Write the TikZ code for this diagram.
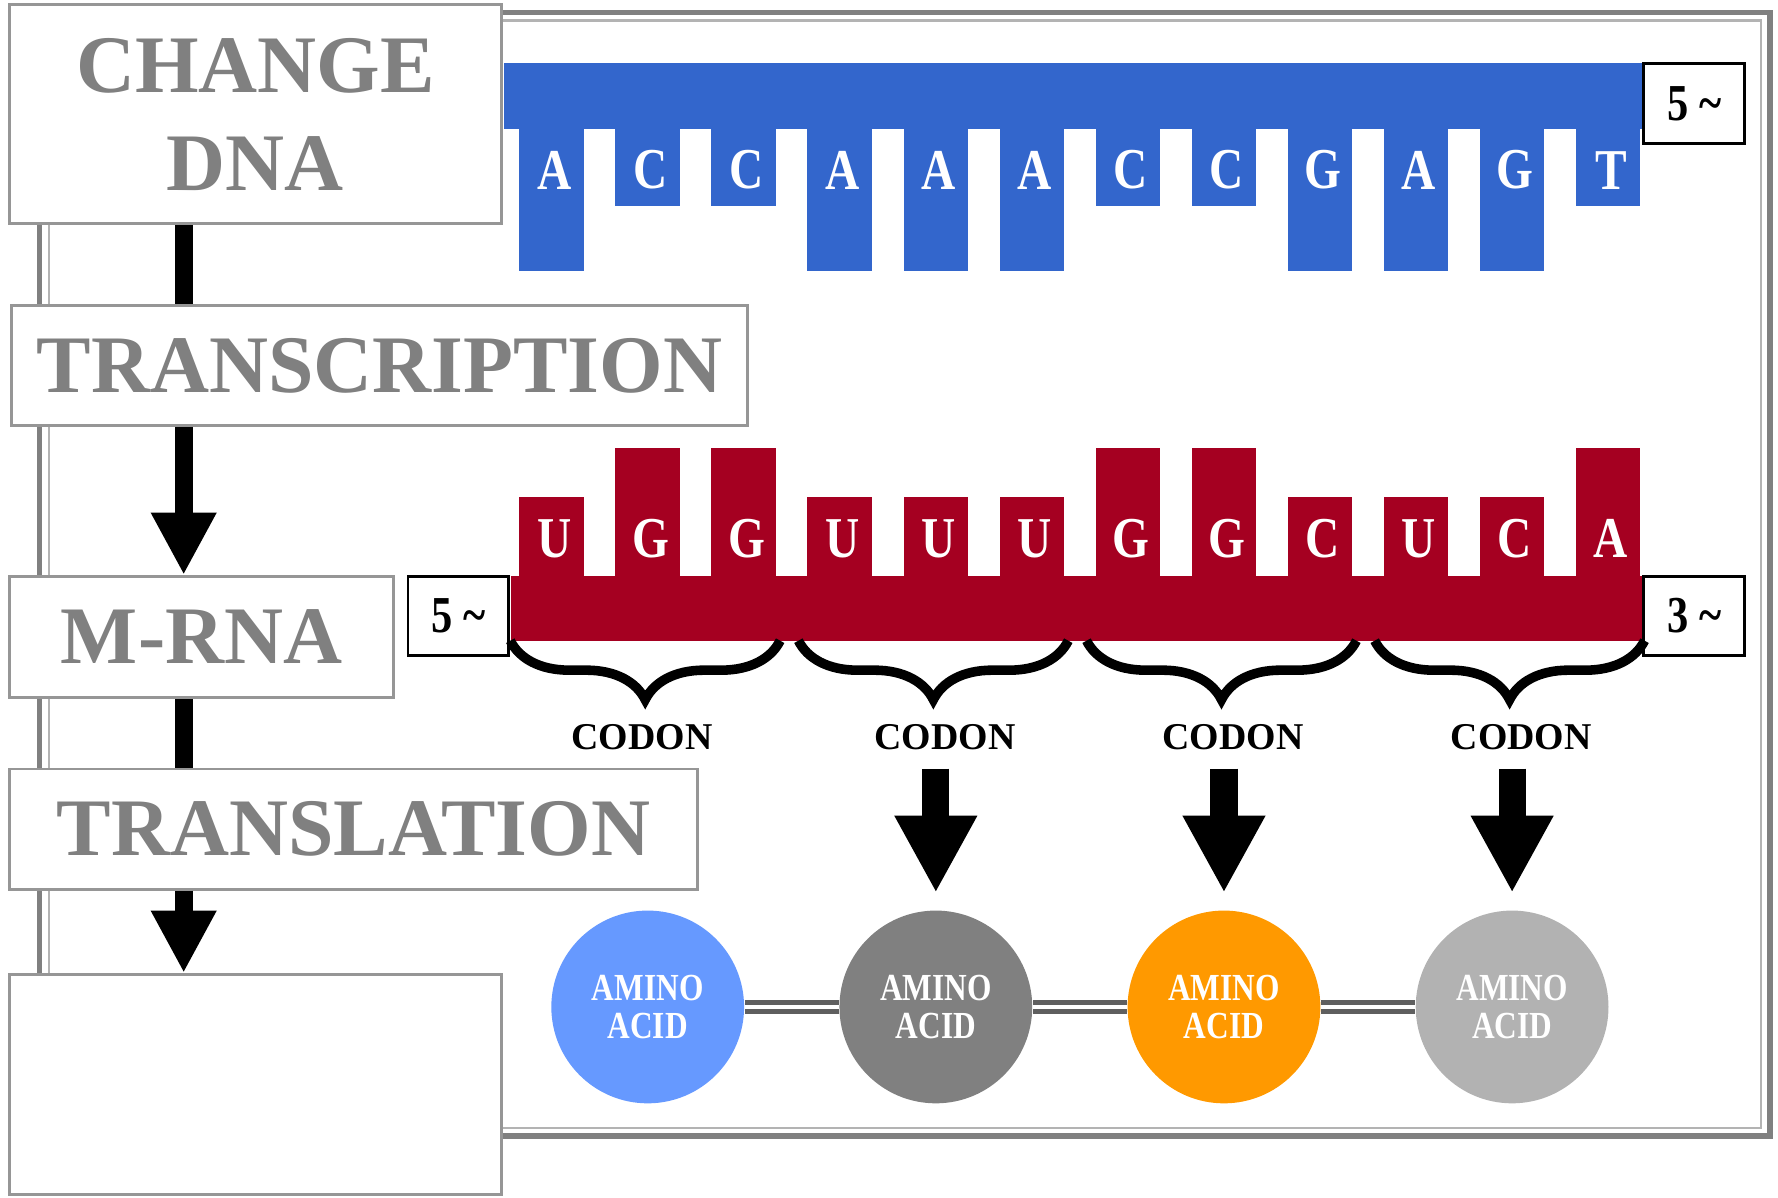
\documentclass[tikz,border=0pt]{standalone}
\usepackage{fontspec}
\setmainfont{Liberation Serif}
\newfontfamily\narrowserif{Liberation Serif}[FakeStretch=0.82]
\usetikzlibrary{arrows.meta,positioning,decorations.pathreplacing}

\definecolor{dnablue}{HTML}{3366CC}
\definecolor{rnared}{HTML}{A50021}
\definecolor{titlegray}{HTML}{808080}
\definecolor{boxgray}{HTML}{969696}
\definecolor{framegray}{HTML}{808080}
\definecolor{acidblue}{HTML}{6699FF}
\definecolor{acidgray}{HTML}{808080}
\definecolor{acidorange}{HTML}{FF9900}
\definecolor{acidlight}{HTML}{B2B2B2}
\definecolor{linkgray}{HTML}{5F5F5F}

\begin{document}
\begin{tikzpicture}[
  stepbox/.style={rectangle, draw=boxgray, line width=0.7pt, fill=white, inner sep=0pt, anchor=north west,
    text=titlegray, align=center, font=\bfseries\fontsize{20.5}{24.5}\selectfont},
  strand/.style={rectangle, inner sep=0pt, minimum height=0.58cm, anchor=north west},
  endbox/.style={rectangle, draw=black, line width=0.7pt, fill=white, minimum width=0.89cm, minimum height=0.70cm,
    inner sep=0pt, font=\narrowserif\bfseries\fontsize{13}{13}\selectfont},
  basetext/.style={text=white, inner sep=0pt, font=\narrowserif\bfseries\fontsize{14.5}{14.5}\selectfont},
  codon/.style={inner sep=0pt, font=\bfseries\fontsize{9.5}{10}\selectfont},
  acid/.style={circle, minimum size=1.70cm, inner sep=0pt, text=white, align=center,
    font=\narrowserif\bfseries\fontsize{9.6}{9.4}\selectfont},
  shaft/.style={line width=0.16cm, black},
  flowarrow/.style={shaft, -{Triangle[length=0.55cm, width=0.54cm]}},
  bigarrow/.style={line width=0.24cm, black, -{Triangle[length=0.68cm, width=0.68cm]},
    shorten <=0.16cm, shorten >=0.15cm},
  codonbrace/.style={decorate, decoration={brace, mirror, amplitude=0.52cm}, line width=2.4pt},
  link/.style={draw=linkgray, double=white, line width=1.1pt, double distance=1.2pt}
]
\useasboundingbox (0,0) rectangle (15.68,-10.56);

% frame
\draw[framegray, line width=1.4pt] (0.35,-0.11) rectangle (15.61,-10.02);
\draw[framegray!60, line width=0.6pt] (0.43,-0.18) rectangle (15.53,-9.95);

% steps on the left
\node[stepbox, minimum width=4.34cm, minimum height=1.93cm] (dna) at (0.07,-0.03) {CHANGE\\DNA};
\node[stepbox, minimum width=6.49cm, minimum height=1.06cm] (transcr) at (0.09,-2.68) {TRANSCRIPTION};
\node[stepbox, minimum width=3.39cm, minimum height=1.07cm] (mrna) at (0.07,-5.07) {M-RNA};
\node[stepbox, minimum width=6.07cm, minimum height=1.06cm] (transl) at (0.07,-6.77) {TRANSLATION};
\node[stepbox, minimum width=4.34cm, minimum height=1.94cm] (result) at (0.07,-8.58) {};

\coordinate (ax) at (1.62,0);
\draw[shaft] (dna.south -| ax) -- (transcr.north -| ax);
\draw[flowarrow] (transcr.south -| ax) -- (mrna.north -| ax);
\draw[shaft] (mrna.south -| ax) -- (transl.north -| ax);
\draw[flowarrow] (transl.south -| ax) -- (result.north -| ax);

% DNA strand
\node[strand, fill=dnablue, minimum width=10.03cm] (dnastrand) at (4.44,-0.55) {};
\node[endbox, anchor=north west] (dna5) at (dnastrand.north east) {5 \textasciitilde};
\foreach \b/\len [count=\i from 0] in {A/1.27,C/0.70,C/0.70,A/1.27,A/1.27,A/1.27,C/0.70,C/0.70,G/1.27,A/1.27,G/1.27,T/0.70}{
  \pgfmathsetmacro\tx{4.58+\i*0.847}
  \fill[dnablue] (\tx,-1.12) rectangle ++(0.57,-\len);
  \node[basetext] (d\i) at (\tx+0.31,-1.50) {\b};
}

% mRNA strand
\node[strand, fill=rnared, minimum width=9.97cm] (rnastrand) at (4.50,-5.07) {};
\node[endbox, anchor=north west] (rna3) at (rnastrand.north east) {3 \textasciitilde};
\node[endbox, anchor=north east] (rna5) at (rnastrand.north west) {5 \textasciitilde};
\foreach \b/\len [count=\i from 0] in {U/0.70,G/1.13,G/1.13,U/0.70,U/0.70,U/0.70,G/1.13,G/1.13,C/0.70,U/0.70,C/0.70,A/1.13}{
  \pgfmathsetmacro\tx{4.58+\i*0.847}
  \fill[rnared] (\tx,-5.08) rectangle ++(0.57,\len);
  \node[basetext] (r\i) at (\tx+0.31,-4.75) {\b};
}

% codons and amino acids
\foreach \k/\col/\dx in {1/acidblue/-0.05,2/acidgray/0.08,3/acidorange/0.08,4/acidlight/0.08}{
  \pgfmathsetmacro\gx{4.58+(\k-1)*2.541}
  \draw[codonbrace] (\gx-0.08,-5.65) -- (\gx+2.30,-5.65);
  \node[codon] (codon\k) at (\gx+1.132+\dx,-6.50) {CODON};
  \node[acid, fill=\col] (acid\k) at (\gx+1.132,-8.88) {AMINO\\ACID};
}
\foreach \k in {2,3,4}
  \draw[bigarrow] (codon\k.south -| acid\k.north) -- (acid\k.north);
\draw[link] (acid1.east) -- (acid2.west);
\draw[link] (acid2.east) -- (acid3.west);
\draw[link] (acid3.east) -- (acid4.west);
\end{tikzpicture}
\end{document}
